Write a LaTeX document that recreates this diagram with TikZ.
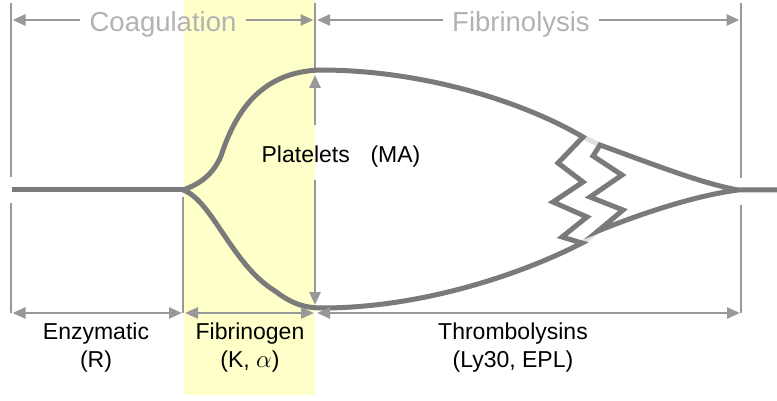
\documentclass[tikz,border=0pt]{standalone}
\usepackage{fontspec}
\setmainfont{Liberation Sans}
\usepackage{tikz}
\usetikzlibrary{arrows.meta, positioning, calc}
\definecolor{curvegray}{RGB}{122,122,122}
\definecolor{linegray}{RGB}{152,152,152}
\definecolor{labelgray}{RGB}{178,178,178}
\definecolor{breakgray}{RGB}{224,224,224}
\definecolor{bandyellow}{RGB}{255,255,202}
\tikzstyle{curve} = [line width=5pt, draw=curvegray, line join=miter]
\tikzstyle{divider} = [line width=2.6pt, draw=linegray]
\tikzstyle{arrow} = [divider, -{Triangle[length=13pt,width=11pt]}]
\tikzstyle{dblarrow} = [divider, {Triangle[length=13pt,width=11pt]}-{Triangle[length=13pt,width=11pt]}]
\tikzstyle{phase} = [text=labelgray, font=\fontsize{27.5}{30}\selectfont, inner xsep=9pt, inner ysep=0pt, text height=24pt, text depth=0pt]
\tikzstyle{param} = [font=\fontsize{23}{28}\selectfont, align=center, inner sep=0pt, anchor=north]

\begin{document}
\begin{tikzpicture}[x=1pt, y=-1pt]
    \useasboundingbox (0,0) rectangle (777,401);

    % Fibrinogen band
    \fill[bandyellow] (184,0) rectangle (315,395);

    % Dividers
    \coordinate (d0a) at (11,3);    \coordinate (d0b) at (11,177);
    \coordinate (d0c) at (11,203);  \coordinate (d0d) at (11,313);
    \coordinate (d1a) at (183,197); \coordinate (d1b) at (183,313);
    \coordinate (d2a) at (315,3);   \coordinate (d2b) at (315,72);
    \coordinate (d3a) at (741,3);   \coordinate (d3b) at (741,178);
    \coordinate (d3c) at (741,205); \coordinate (d3d) at (741,313);
    \draw [divider] (d0a) -- (d0b);
    \draw [divider] (d0c) -- (d0d);
    \draw [divider] (d1a) -- (d1b);
    \draw [divider] (d2a) -- (d2b);
    \draw [divider] (d3a) -- (d3b);
    \draw [divider] (d3c) -- (d3d);

    % Phases
    \node (coag) [phase] at (163,20) {Coagulation};
    \node (fibrino) [phase] at (521,20) {Fibrinolysis};
    \coordinate (coagL) at (12.5,20);
    \coordinate (coagR) at (313.5,20);
    \coordinate (fibL) at (317,20);
    \coordinate (fibR) at (739.5,20);
    \draw [arrow] (coag) -- (coagL);
    \draw [arrow] (coag) -- (coagR);
    \draw [arrow] (fibrino) -- (fibL);
    \draw [arrow] (fibrino) -- (fibR);

    % Trace
    \draw [curve] (12,190) -- (183,190);
    \draw [breakgray, line width=5pt] (583,137) -- (600,145);
    \draw [breakgray, line width=5pt] (582,243) -- (598,231);
    \draw [curve] (183,190) .. controls (203,183) and (214,172) .. (221,156)
        .. controls (236,110) and (262,72) .. (320,70)
        .. controls (420,70) and (520,100) .. (583,137)
        -- (558,163) -- (583,182) -- (553,202) -- (587,217) -- (562,237) -- (582,243)
        .. controls (520,275) and (420,308) .. (322,308)
        .. controls (305,308) and (292,304) .. (275,291)
        .. controls (232,265) and (212,200) .. (183,190);
    \draw [curve] (738,190) .. controls (700,183) and (650,163) .. (600,145)
        -- (593,156) -- (622,175) -- (590,197) -- (623,210) -- (598,231)
        .. controls (650,210) and (700,195) .. (738,190) -- (777,190);

    % Maximum amplitude
    \node (plate) [font=\fontsize{23}{28}\selectfont, anchor=base, inner sep=0pt] at (341,163) {Platelets\hspace{0.9em}(MA)};
    \coordinate (maA) at (315,125);
    \coordinate (maTop) at (315,75);
    \coordinate (maB) at (315,180);
    \coordinate (maBot) at (315,305);
    \draw [arrow] (maA) -- (maTop);
    \draw [arrow] (maB) -- (maBot);

    % Parameters
    \node (enzym) [param] at (96,322.5) {Enzymatic\\(R)};
    \node (fibgen) [param] at (250,322.5) {Fibrinogen\\(K, $\alpha$)};
    \node (thrombo) [param] at (513,322.5) {Thrombolysins\\(Ly30, EPL)};
    \coordinate (enzL) at (12.5,313);  \coordinate (enzR) at (182,313);
    \coordinate (fgL) at (185,313);    \coordinate (fgR) at (314,313);
    \coordinate (thL) at (317,313);    \coordinate (thR) at (740,313);
    \draw [dblarrow] (enzL) -- (enzR);
    \draw [dblarrow] (fgL) -- (fgR);
    \draw [dblarrow] (thL) -- (thR);
\end{tikzpicture}
\end{document}
